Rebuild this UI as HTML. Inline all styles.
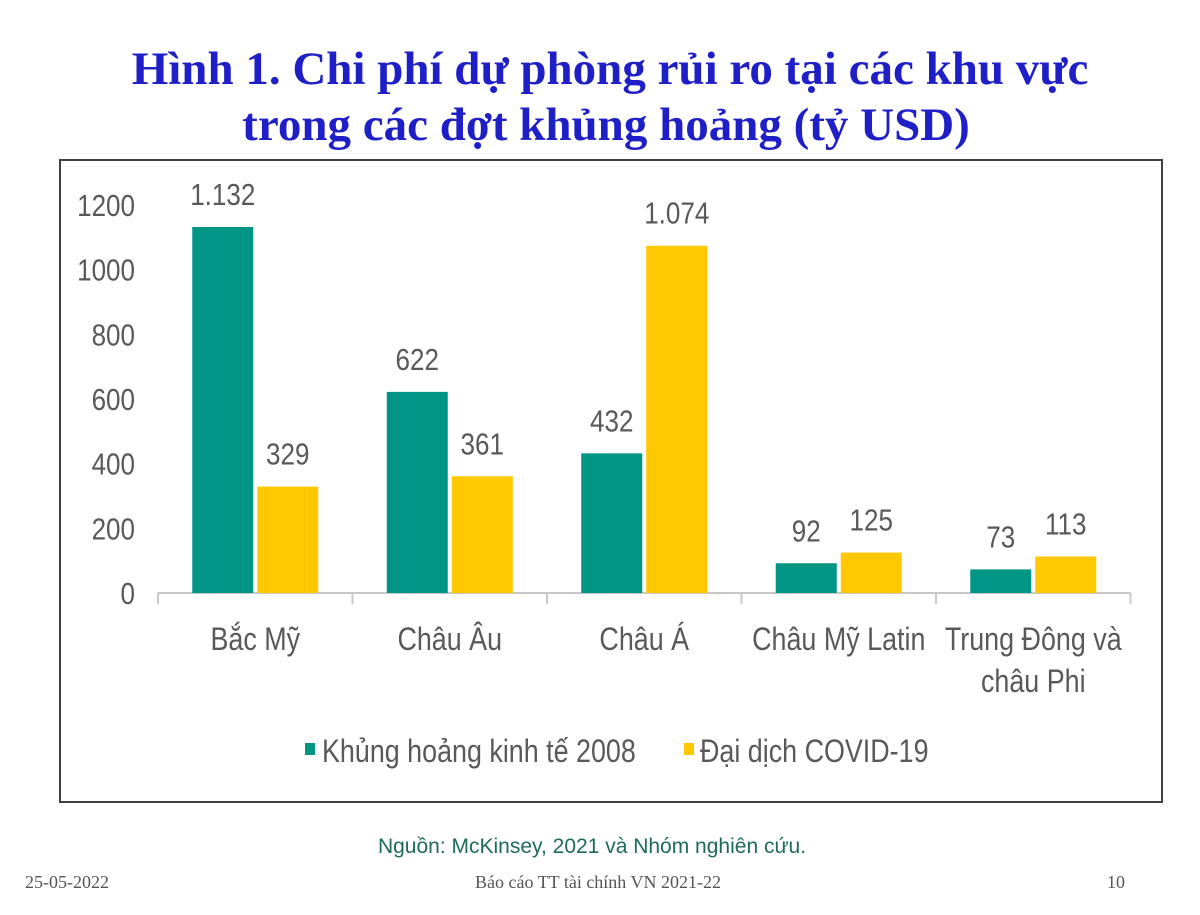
<!DOCTYPE html>
<html><head><meta charset="utf-8">
<style>
html,body{margin:0;padding:0;background:#fff;width:1200px;height:915px;overflow:hidden}
.t{position:absolute;left:0;width:1200px;text-align:center;font-family:"Liberation Serif",serif;font-weight:bold;color:#1f1fc8;font-size:47px;line-height:56px}
svg text{font-family:"Liberation Sans",sans-serif}
</style></head><body>
<div class="t" style="top:41px"><span style="position:relative;left:10px">Hình 1. Chi phí dự phòng rủi ro tại các khu vực</span><br><span style="position:relative;left:6px">trong các đợt khủng hoảng (tỷ USD)</span></div>
<svg id="c" width="1200" height="915" style="position:absolute;left:0;top:0">
<rect x="60" y="160" width="1102" height="642" fill="none" stroke="#404040" stroke-width="2"/>
<g id="g"></g>
<text x="592" y="853" text-anchor="middle" font-size="21" fill="#1e6b5a">Nguồn: McKinsey, 2021 và Nhóm nghiên cứu.</text>
<text x="25" y="888" font-size="18" fill="#555" style="font-family:'Liberation Serif',serif">25-05-2022</text>
<text x="598" y="888" text-anchor="middle" font-size="18" fill="#555" style="font-family:'Liberation Serif',serif">Báo cáo TT tài chính VN 2021-22</text>
<text x="1125" y="888" text-anchor="end" font-size="18" fill="#555" style="font-family:'Liberation Serif',serif">10</text>
</svg>
<script>
const categories=[["Bắc Mỹ"],["Châu Âu"],["Châu Á"],["Châu Mỹ Latin"],["Trung Đông và","châu Phi"]];
const crisis2008=[1132,622,432,92,73];
const covid19=[329,361,1074,125,113];
const labels2008=["1.132","622","432","92","73"];
const labelsCovid=["329","361","1.074","125","113"];
const yTicks=[0,200,400,600,800,1000,1200];
const NS="http://www.w3.org/2000/svg",g=document.getElementById('g');
const y0=593,x0=158,step=194.5,k=(593-205)/1200,SX=0.84;
const Y=v=>y0-v*k, X=i=>x0+step*i+step/2;
function el(t,a,txt){const e=document.createElementNS(NS,t);for(const n in a)e.setAttribute(n,a[n]);if(txt!=null)e.textContent=txt;g.appendChild(e);return e;}
function tx(x,y,anchor,size,txt){return el('text',{x:0,y:0,transform:`translate(${x},${y}) scale(${SX},1)`,'text-anchor':anchor,'font-size':size,fill:'#595959'},txt);}
yTicks.forEach(v=>{const e=tx(135,Y(v)+11,'end',31,v);

});
const ax=el('line',{x1:x0,y1:y0,x2:x0+step*5,y2:y0,stroke:'#c8c8c8','stroke-width':2});


for(let i=0;i<=5;i++){const t=el('line',{x1:x0+step*i,y1:y0,x2:x0+step*i,y2:y0+11,stroke:'#c8c8c8','stroke-width':2});

}
const bw=61,gap=4;
categories.forEach((c,i)=>{
 const cx=X(i);
 const a=el('rect',{x:cx-bw-gap/2,y:Y(crisis2008[i]),width:bw,height:crisis2008[i]*k,fill:'#009585'});
 
 
 const b=el('rect',{x:cx+gap/2,y:Y(covid19[i]),width:bw,height:covid19[i]*k,fill:'#ffc800'});
 
 
 const la=tx(cx-bw/2-gap/2,Y(crisis2008[i])-22,'middle',31,labels2008[i]);
 
 
 const lb=tx(cx+bw/2+gap/2,Y(covid19[i])-22,'middle',31,labelsCovid[i]);
 
 
 c.forEach((ln,j)=>{const t=tx(cx,650+j*42,'middle',32,ln);
 
 });
});
const s1=el('rect',{x:305,y:743,width:10,height:12,fill:'#009585'});


const l1=tx(322,762,'start',32,'Khủng  hoảng kinh tế 2008');


const s2=el('rect',{x:684,y:743,width:10,height:12,fill:'#ffc800'});


const l2=tx(700,762,'start',32,'Đại dịch COVID-19');


</script>
</body></html>
